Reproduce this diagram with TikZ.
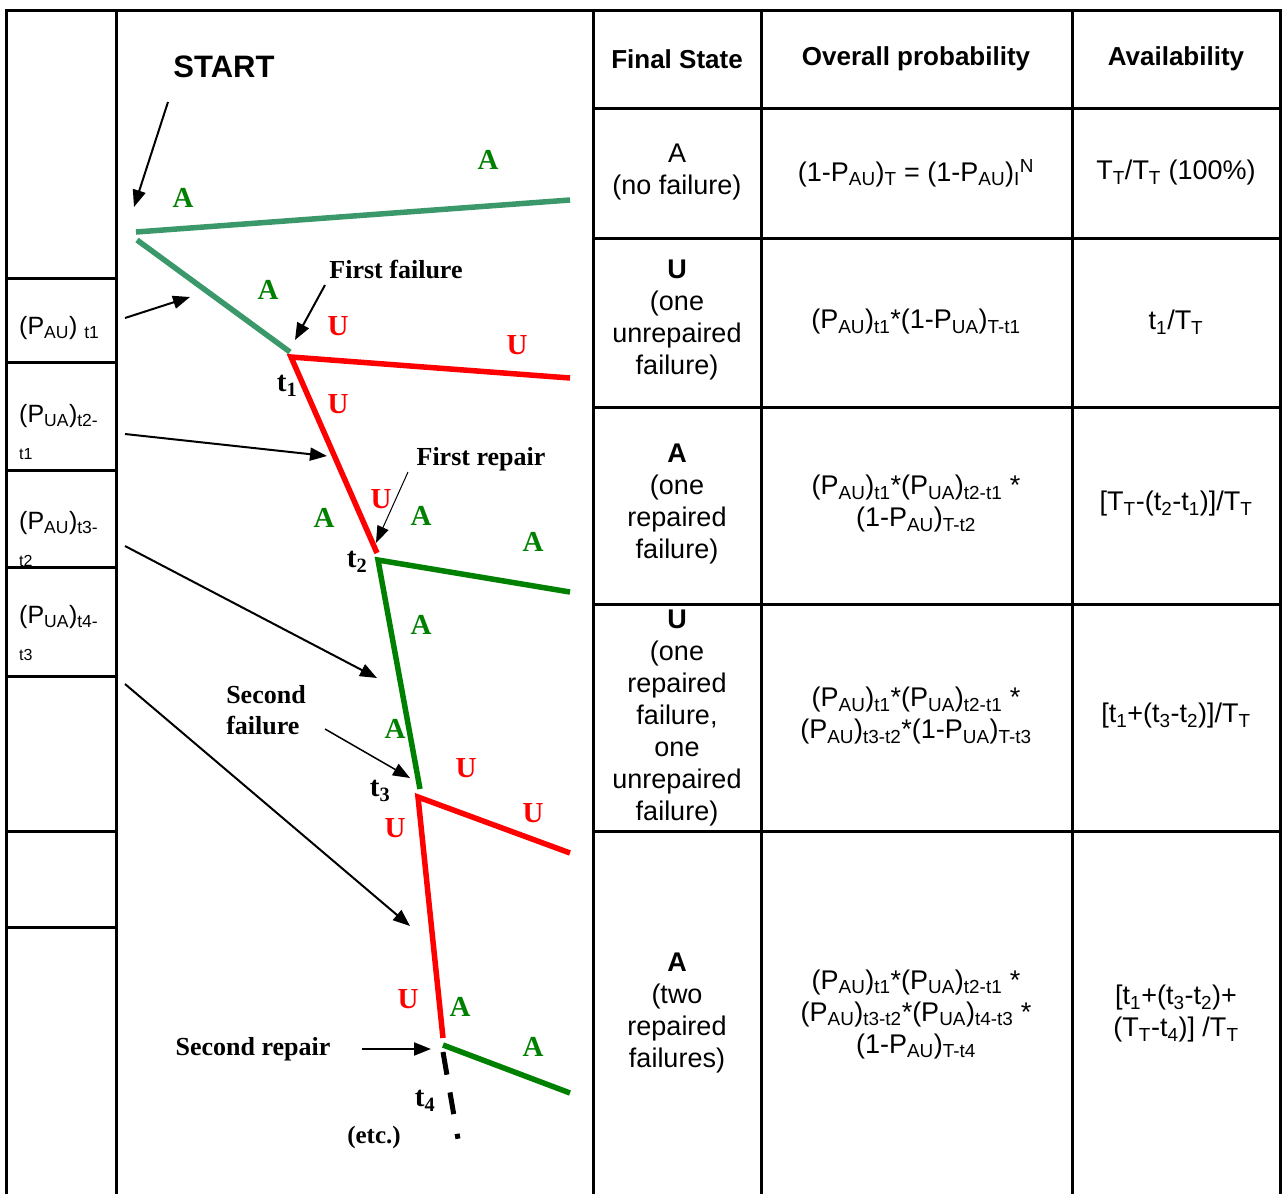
\documentclass[tikz,border=0pt]{standalone}
\usepackage{fontspec}
\setmainfont{Liberation Serif}
\setsansfont{Liberation Sans}
\usepackage{xcolor}
\usepackage{tikz}
\usetikzlibrary{arrows.meta}

\definecolor{seagreen}{RGB}{58,152,106}
\definecolor{stgreen}{RGB}{0,128,0}
\definecolor{stred}{RGB}{255,0,0}

\tikzset{
  gridline/.style={line width=3pt},
  branch/.style={line width=5.5pt},
  pointer/.style={line width=2pt, -{Triangle[length=17pt,width=13pt]}},
  thinpointer/.style={line width=1pt, -{Triangle[length=17pt,width=12pt]}},
  celltxt/.style={font=\sffamily\fontsize{27}{32}\selectfont, align=center, inner sep=0pt},
  headtxt/.style={font=\sffamily\bfseries\fontsize{26}{32}\selectfont, inner sep=0pt},
  lefttxt/.style={font=\sffamily\fontsize{25}{37}\selectfont, align=left, anchor=west, inner sep=0pt},
  eventtxt/.style={font=\bfseries\fontsize{26}{31}\selectfont, align=left, inner sep=0pt},
  stateA/.style={font=\bfseries\fontsize{29}{30}\selectfont, text=stgreen, inner sep=0pt},
  stateU/.style={font=\bfseries\fontsize{29}{30}\selectfont, text=stred, inner sep=0pt},
  tlbl/.style={font=\bfseries\fontsize{29}{30}\selectfont, inner sep=0pt}
}

\begin{document}
\begin{tikzpicture}[x=1pt, y=-1pt]
      \useasboundingbox (0,0) rectangle (1282,1194);
      % outer frame and columns
      \draw[gridline] (6,1194) -- (6,10) -- (1280,10) -- (1280,1194);
      \draw[gridline] (116,10) -- (116,1194);
      \draw[gridline] (593,10) -- (593,1194);
      \draw[gridline] (761,10) -- (761,1194);
      \draw[gridline] (1072,10) -- (1072,1194);
      % left column rows
      \foreach \yy in {278,362,470,567,676,831,927}
        \draw[gridline] (6,\yy) -- (116,\yy);
      % table rows
      \foreach \yy in {108,238,407,604,831}
        \draw[gridline] (593,\yy) -- (1280,\yy);

      % headers
      \node[headtxt] (hstate) at (677,59) {Final State};
      \node[headtxt] (hprob) at (916,59) {Overall probability};
      \node[headtxt] (havail) at (1176,59) {Availability};

      % final states
      \node[celltxt] (st1) at (677,172) {A\\(no failure)};
      \node[celltxt] (st2) at (677,320) {\textbf{U}\\(one\\unrepaired\\failure)};
      \node[celltxt] (st3) at (677,504) {\textbf{A}\\(one\\repaired\\failure)};
      \node[celltxt] (st4) at (677,718) {\textbf{U}\\(one\\repaired\\failure,\\one\\unrepaired\\failure)};
      \node[celltxt] (st5) at (677,1013) {\textbf{A}\\(two\\repaired\\failures)};

      % overall probabilities
      \node[celltxt] (pr1) at (916,173) {(1-P\textsubscript{AU})\textsubscript{T} = (1-P\textsubscript{AU})\textsubscript{I}\textsuperscript{N}};
      \node[celltxt] (pr2) at (916,322) {(P\textsubscript{AU})\textsubscript{t1}*(1-P\textsubscript{UA})\textsubscript{T-t1}};
      \node[celltxt] (pr3) at (916,504) {(P\textsubscript{AU})\textsubscript{t1}*(P\textsubscript{UA})\textsubscript{t2-t1} *\\(1-P\textsubscript{AU})\textsubscript{T-t2}};
      \node[celltxt] (pr4) at (916,716) {(P\textsubscript{AU})\textsubscript{t1}*(P\textsubscript{UA})\textsubscript{t2-t1} *\\(P\textsubscript{AU})\textsubscript{t3-t2}*(1-P\textsubscript{UA})\textsubscript{T-t3}};
      \node[celltxt] (pr5) at (916,1014) {(P\textsubscript{AU})\textsubscript{t1}*(P\textsubscript{UA})\textsubscript{t2-t1} *\\(P\textsubscript{AU})\textsubscript{t3-t2}*(P\textsubscript{UA})\textsubscript{t4-t3} *\\(1-P\textsubscript{AU})\textsubscript{T-t4}};

      % availabilities
      \node[celltxt] (av1) at (1176,173) {T\textsubscript{T}/T\textsubscript{T} (100\%)};
      \node[celltxt] (av2) at (1176,322) {t\textsubscript{1}/T\textsubscript{T}};
      \node[celltxt] (av3) at (1176,504) {[T\textsubscript{T}-(t\textsubscript{2}-t\textsubscript{1})]/T\textsubscript{T}};
      \node[celltxt] (av4) at (1176,716) {[t\textsubscript{1}+(t\textsubscript{3}-t\textsubscript{2})]/T\textsubscript{T}};
      \node[celltxt] (av5) at (1176,1014) {[t\textsubscript{1}+(t\textsubscript{3}-t\textsubscript{2})+\\(T\textsubscript{T}-t\textsubscript{4})] /T\textsubscript{T}};

      % step probabilities (left column)
      \node[lefttxt] (lp1) at (19,328) {(P\textsubscript{AU}) \textsubscript{t1}};
      \node[lefttxt] (lp2) at (19,432) {(P\textsubscript{UA})\textsubscript{t2-}\\{\fontsize{16}{16}\selectfont t1}};
      \node[lefttxt] (lp3) at (19,539) {(P\textsubscript{AU})\textsubscript{t3-}\\{\fontsize{16}{16}\selectfont t2}};
      \node[lefttxt] (lp4) at (19,633) {(P\textsubscript{UA})\textsubscript{t4-}\\{\fontsize{16}{16}\selectfont t3}};

      % tree junctions
      \coordinate (s0) at (136,232);
      \coordinate (s1) at (137,240);
      \coordinate (e0) at (570,200);
      \coordinate (t1a) at (290,352);
      \coordinate (t1) at (291,357);
      \coordinate (e1) at (570,378);
      \coordinate (t2a) at (377,553);
      \coordinate (t2) at (378,560);
      \coordinate (e2) at (570,592);
      \coordinate (t3a) at (420,789);
      \coordinate (t3) at (418,797);
      \coordinate (e3) at (570,853);
      \coordinate (t4a) at (443,1038);
      \coordinate (t4) at (443,1045);
      \coordinate (e4) at (570,1093);
      \coordinate (t4b) at (443,1052);
      \coordinate (tend) at (458,1139);

      % branches
      \draw[branch, seagreen] (s0) -- (e0);
      \draw[branch, seagreen] (s1) -- (t1a);
      \draw[branch, stred, line join=miter] (e1) -- (t1) -- (t2a);
      \draw[branch, stgreen, line join=miter] (e2) -- (t2) -- (t3a);
      \draw[branch, stred, line join=miter] (e3) -- (t3) -- (t4a);
      \draw[branch, stgreen] (t4) -- (e4);
      \draw[line width=5pt, dash pattern=on 23pt off 18pt on 22pt off 20pt on 5pt off 20pt] (t4b) -- (tend);

      % state letters
      \node[stateA] (a1) at (183,198) {A};
      \node[stateA] (a2) at (488,160) {A};
      \node[stateA] (a3) at (268,290) {A};
      \node[stateA] (a4) at (324,518) {A};
      \node[stateA] (a5) at (421,516) {A};
      \node[stateA] (a6) at (533,542) {A};
      \node[stateA] (a7) at (421,625) {A};
      \node[stateA] (a8) at (395,729) {A};
      \node[stateA] (a9) at (460,1007) {A};
      \node[stateA] (a10) at (533,1047) {A};
      \node[stateU] (u1) at (338,326) {U};
      \node[stateU] (u2) at (517,345) {U};
      \node[stateU] (u3) at (338,404) {U};
      \node[stateU] (u4) at (381,499) {U};
      \node[stateU] (u5) at (466,768) {U};
      \node[stateU] (u6) at (533,813) {U};
      \node[stateU] (u7) at (395,828) {U};
      \node[stateU] (u8) at (408,999) {U};

      % times
      \node[tlbl] (lt1) at (287,386) {t\textsubscript{1}};
      \node[tlbl] (lt2) at (357,562) {t\textsubscript{2}};
      \node[tlbl] (lt3) at (380,791) {t\textsubscript{3}};
      \node[tlbl] (lt4) at (425,1101) {t\textsubscript{4}};

      % events
      \node[font=\sffamily\bfseries\fontsize{31}{32}\selectfont, inner sep=0pt] (start) at (224,67) {START};
      \node[eventtxt] (ff) at (396,270) {First failure};
      \node[eventtxt] (fr) at (481,459) {First repair};
      \node[eventtxt] (sf) at (266,710) {Second\\failure};
      \node[eventtxt] (sr) at (253,1049) {Second repair};
      \node[font=\bfseries\fontsize{25}{26}\selectfont, inner sep=0pt] (etc) at (374,1137) {(etc.)};

      % pointers
      \coordinate (pst) at (168,102);
      \coordinate (qst) at (134,207);
      \coordinate (pff) at (325,285);
      \coordinate (qff) at (295,340);
      \coordinate (pfr) at (408,472);
      \coordinate (qfr) at (376,543);
      \coordinate (psf) at (325,729);
      \coordinate (qsf) at (410,778);
      \coordinate (psr) at (362,1049);
      \coordinate (qsr) at (431,1049);
      \draw[pointer] (pst) -- (qst);
      \draw[pointer] (pff) -- (qff);
      \draw[thinpointer] (pfr) -- (qfr);
      \draw[pointer, line width=1.5pt] (psf) -- (qsf);
      \draw[pointer] (psr) -- (qsr);

      % pointers from left column
      \coordinate (l1) at (125,318);
      \coordinate (m1) at (190,297);
      \coordinate (l2) at (125,434);
      \coordinate (m2) at (327,456);
      \coordinate (l3) at (125,546);
      \coordinate (m3) at (377,678);
      \coordinate (l4) at (125,684);
      \coordinate (m4) at (410,926);
      \draw[pointer] (l1) -- (m1);
      \draw[pointer] (l2) -- (m2);
      \draw[pointer] (l3) -- (m3);
      \draw[pointer] (l4) -- (m4);
\end{tikzpicture}
\end{document}
